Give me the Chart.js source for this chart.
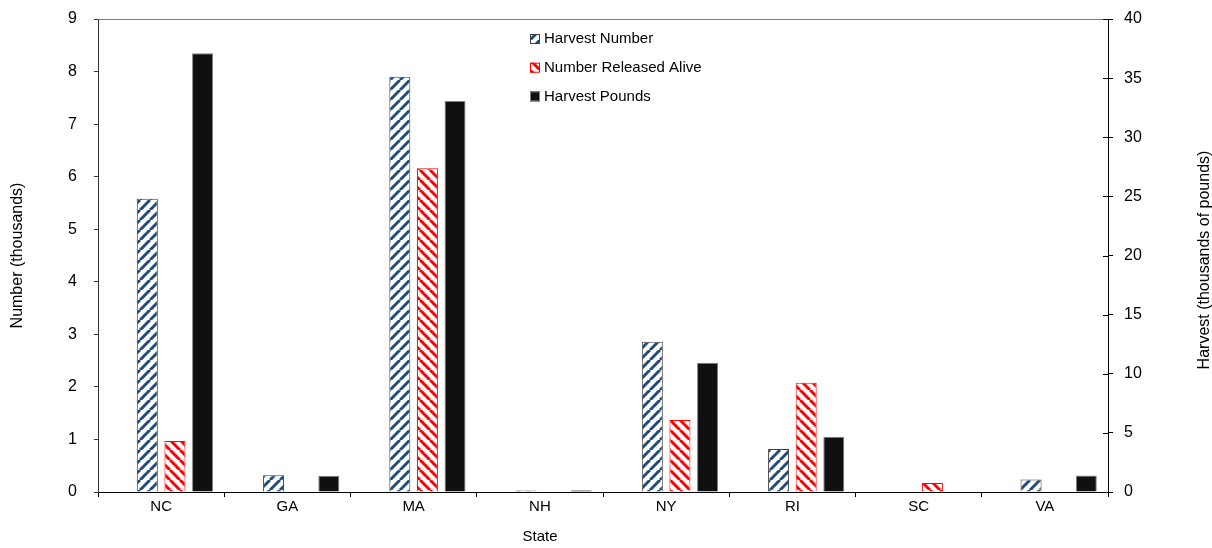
<!DOCTYPE html>
<html>
<head>
<meta charset="utf-8">
<script src="https://cdn.jsdelivr.net/npm/chart.js@4/dist/chart.umd.min.js"></script>
<style>
  html, body { margin: 0; padding: 0; background: #ffffff; }
  #wrap { width: 1212px; height: 548px; }
</style>
</head>
<body>
<div id="wrap"><canvas id="c" width="1212" height="548"></canvas></div>
<script>
// ---- data ----
const categories = ['NC', 'GA', 'MA', 'NH', 'NY', 'RI', 'SC', 'VA'];
const spacer = [null, null, null, null, null, null, null, null]; // empty first slot of each group
const harvestNumber = [5.58, 0.32, 7.90, 0.03, 2.86, 0.82, 0, 0.24];     // thousands (left axis)
const releasedAlive = [0.97, 0, 6.16, 0, 1.37, 2.08, 0.17, 0];           // thousands (left axis)
const harvestPounds = [37.1, 1.38, 33.07, 0.15, 10.93, 4.68, 0, 1.40];    // thousands of pounds (right axis)
const leftTicks = { min: 0, max: 9, step: 1 };
const rightTicks = { min: 0, max: 40, step: 5 };
const seriesNames = ['Harvest Number', 'Number Released Alive', 'Harvest Pounds'];
const axisTitles = { x: 'State', left: 'Number (thousands)', right: 'Harvest (thousands of pounds)' };

const FONT = "'Liberation Sans', Arial, sans-serif";

function stripePattern(color, dir, size, lw) {
  const c = document.createElement('canvas');
  c.width = size; c.height = size;
  const x = c.getContext('2d');
  x.fillStyle = '#ffffff';
  x.fillRect(0, 0, size, size);
  x.strokeStyle = color;
  x.lineWidth = lw;
  for (const o of [-size, 0, size]) {
    x.beginPath();
    if (dir === '/') { x.moveTo(o, size); x.lineTo(o + size, 0); }
    else { x.moveTo(o, 0); x.lineTo(o + size, size); }
    x.stroke();
  }
  return x.createPattern(c, 'repeat');
}

const bluePat = stripePattern('#234c7e', '/', 10, 3);
const redPat = stripePattern('#ff0000', '\\', 10, 3);

const styles = [
  { fill: bluePat, border: '#404040' },
  { fill: redPat, border: '#ff0000' },
  { fill: '#101010', border: '#808080' }
];

const extras = {
  id: 'extras',
  afterDraw(chart) {
    const ctx = chart.ctx;
    const a = chart.chartArea;
    ctx.save();
    // top border of plot area
    ctx.strokeStyle = '#808080';
    ctx.lineWidth = 1;
    ctx.beginPath();
    ctx.moveTo(a.left, a.top + 0.5);
    ctx.lineTo(a.right, a.top + 0.5);
    ctx.stroke();
    // inner half of right-axis tick marks
    const y1 = chart.scales.y1;
    ctx.strokeStyle = '#000000';
    ctx.beginPath();
    for (const t of y1.ticks) {
      const yy = Math.round(y1.getPixelForValue(t.value)) + 0.5;
      ctx.moveTo(a.right - 5, yy);
      ctx.lineTo(a.right, yy);
    }
    ctx.stroke();
    // legend
    const lx = 530, ly0 = 39, dy = 28.7, bs = 10;
    ctx.font = '15px ' + FONT;
    ctx.textBaseline = 'middle';
    ctx.textAlign = 'left';
    seriesNames.forEach((name, i) => {
      const cy = ly0 + i * dy;
      ctx.fillStyle = styles[i].fill;
      ctx.fillRect(lx, cy - bs / 2, bs, bs);
      ctx.strokeStyle = styles[i].border;
      ctx.lineWidth = 1;
      ctx.strokeRect(lx + 0.5, cy - bs / 2 + 0.5, bs - 1, bs - 1);
      ctx.fillStyle = '#000000';
      ctx.fillText(name, lx + 14, cy);
    });
    // x axis title
    ctx.fillStyle = '#000000';
    ctx.textAlign = 'center';
    ctx.font = '15px ' + FONT;
    ctx.fillText(axisTitles.x, 540, 537);
    // right axis title (reads bottom-to-top)
    ctx.translate(1205, 260);
    ctx.rotate(-Math.PI / 2);
    ctx.font = '16px ' + FONT;
    ctx.fillText(axisTitles.right, 0, 0);
    ctx.restore();
  }
};

new Chart(document.getElementById('c'), {
  type: 'bar',
  data: {
    labels: categories,
    datasets: [
      { label: '', data: spacer, yAxisID: 'y' },
      { label: seriesNames[0], data: harvestNumber, backgroundColor: styles[0].fill, borderColor: styles[0].border, borderWidth: 1, yAxisID: 'y' },
      { label: seriesNames[1], data: releasedAlive, backgroundColor: styles[1].fill, borderColor: styles[1].border, borderWidth: 1, yAxisID: 'y' },
      { label: seriesNames[2], data: harvestPounds, backgroundColor: styles[2].fill, borderColor: styles[2].border, borderWidth: 1, yAxisID: 'y1' }
    ]
  },
  options: {
    responsive: false,
    animation: false,
    barPercentage: 0.76,
    categoryPercentage: 0.875,
    layout: { padding: { top: 19, left: 0, right: 0, bottom: 0 } },
    plugins: { legend: { display: false }, tooltip: { enabled: false } },
    scales: {
      x: {
        type: 'category',
        stacked: false,
        offset: true,
        grid: { display: true, drawOnChartArea: false, offset: true, tickLength: 5, color: '#000000' },
        border: { color: '#000000' },
        ticks: { font: { family: FONT, size: 15 }, color: '#000000', padding: 1, maxRotation: 0 },
        afterFit(s) { s.height = 56; s.paddingLeft = 0; s.paddingRight = 0; }
      },
      y: {
        position: 'left',
        min: leftTicks.min, max: leftTicks.max,
        ticks: { stepSize: leftTicks.step, font: { family: FONT, size: 16 }, color: '#000000', padding: 17 },
        grid: { drawOnChartArea: false, tickLength: 4, color: '#333333' },
        border: { color: '#333333' },
        title: { display: true, text: axisTitles.left, font: { family: FONT, size: 16 }, color: '#000000', padding: { top: 8, bottom: 0 } },
        afterFit(s) { s.width = 98; s.paddingTop = 0; s.paddingBottom = 0; }
      },
      y1: {
        position: 'right',
        min: rightTicks.min, max: rightTicks.max,
        ticks: { stepSize: rightTicks.step, font: { family: FONT, size: 16 }, color: '#000000', padding: 11 },
        grid: { drawOnChartArea: false, tickLength: 5, color: '#000000' },
        border: { color: '#000000' },
        afterFit(s) { s.width = 104; s.paddingTop = 0; s.paddingBottom = 0; }
      }
    }
  },
  plugins: [extras]
});
</script>
</body>
</html>
